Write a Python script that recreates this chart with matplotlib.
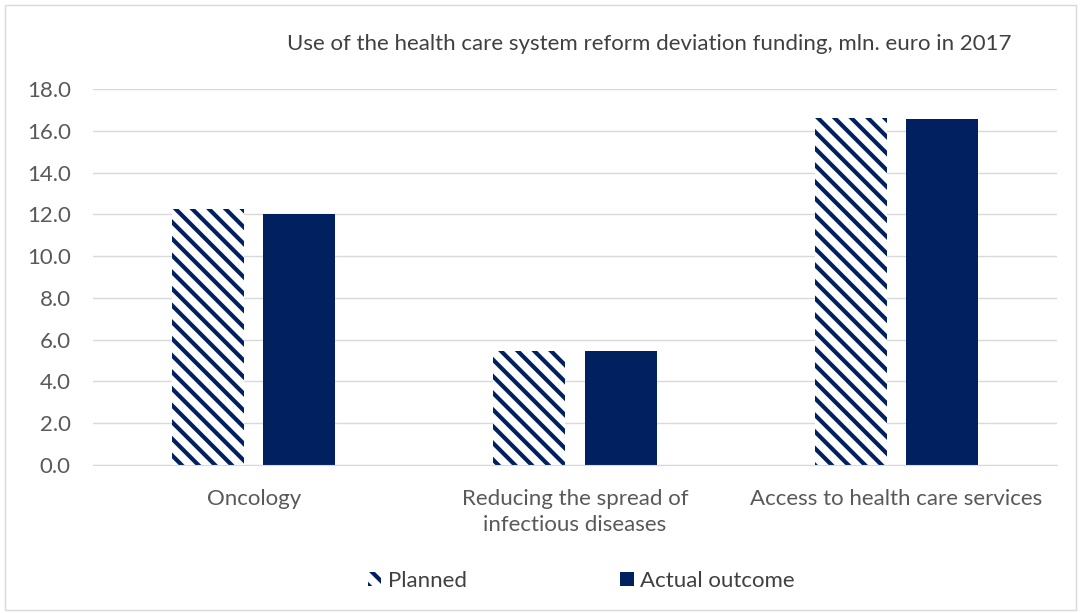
import numpy as np
import matplotlib.pyplot as plt
from matplotlib.patches import Rectangle

categories = ['Oncology', 'Reducing the spread of\ninfectious diseases', 'Access to health care services']
planned = [12.25, 5.45, 16.6]
actual = [12.0, 5.45, 16.55]
series_names = ['Planned', 'Actual outcome']
yticks = np.arange(0, 18.1, 2)

navy = '#002060'
plt.rcParams['font.family'] = ['Lato', 'DejaVu Sans']
plt.rcParams['hatch.linewidth'] = 3.0
plt.rcParams['hatch.color'] = navy

fig = plt.figure(figsize=(10.81, 6.13), dpi=100)
ax = fig.add_axes([0.086, 0.2414, 0.892, 0.6134])

x = np.arange(len(categories))
w = 0.224
off = 0.1425
ax.bar(x - off, planned, w, color='white', edgecolor=navy, hatch='\\\\', linewidth=0, label=series_names[0])
ax.bar(x + off, actual, w, color=navy, edgecolor=navy, linewidth=0, label=series_names[1])

ax.set_xlim(-0.5, 2.5)
ax.set_ylim(0, 18)
ax.set_yticks(yticks)
ax.set_yticklabels(['%.1f' % v for v in yticks])
ax.set_xticks(x)
ax.set_xticklabels(categories, linespacing=1.4)
ax.tick_params(axis='both', length=0, labelsize=16, labelcolor='#595959')
ax.tick_params(axis='y', pad=16)
ax.tick_params(axis='x', pad=17)
ax.grid(axis='y', color='#d9d9d9', linewidth=1)
ax.set_axisbelow(True)
for s in ['top', 'right', 'left']:
    ax.spines[s].set_visible(False)
ax.spines['bottom'].set_color('#d9d9d9')

fig.text(0.601, 0.928, 'Use of the health care system reform deviation funding, mln. euro in 2017',
         ha='center', va='center', fontsize=16, color='#404040')

fig.legend(loc='center', bbox_to_anchor=(0.538, 0.053), ncol=2, frameon=False,
           fontsize=16, handlelength=0.6, handleheight=0.6, handletextpad=0.3,
           columnspacing=6.9, labelcolor='#404040')

fig.patches.append(Rectangle((0.005, 0.005), 0.99, 0.987, transform=fig.transFigure,
                             fill=False, edgecolor='#d9d9d9', linewidth=1))

fig.savefig('out.png', dpi=100)
